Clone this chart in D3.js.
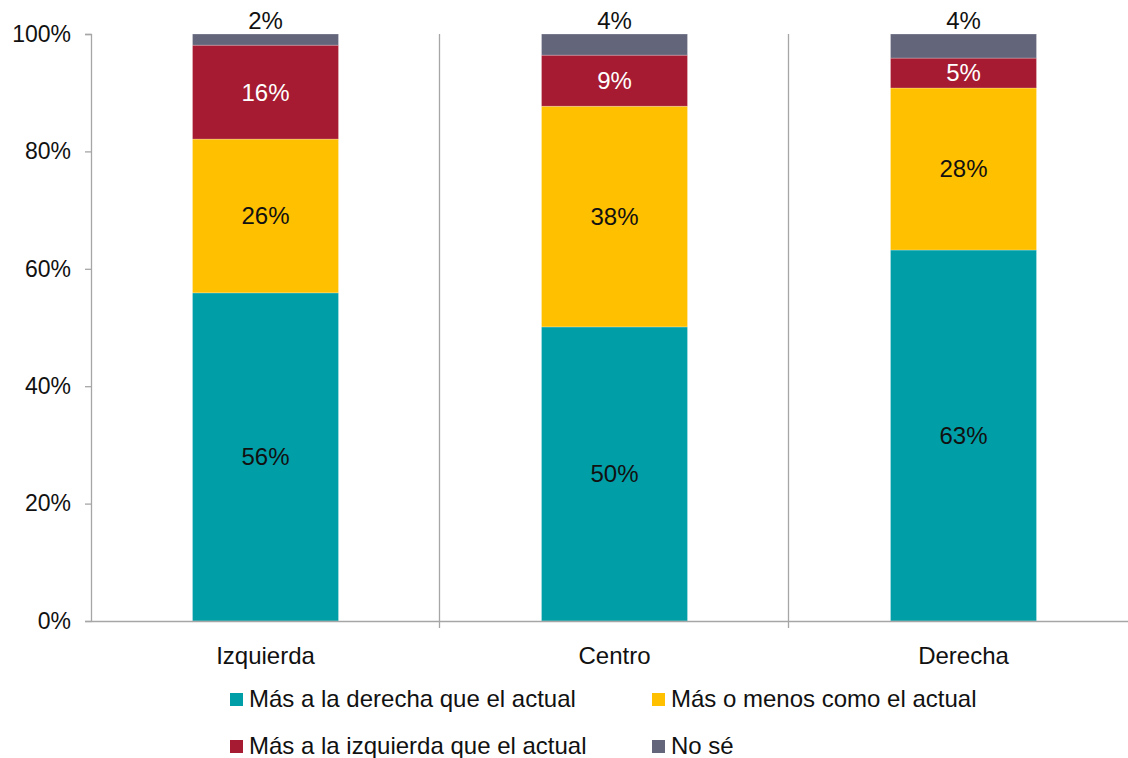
<!DOCTYPE html>
<html>
<head>
<meta charset="utf-8">
<script src="https://cdn.jsdelivr.net/npm/d3@7"></script>
<style>
  body { margin: 0; background: #fff; }
  svg { display: block; font-family: "Liberation Sans", Arial, sans-serif; }
</style>
</head>
<body>
<script>
// categorías y series (porcentajes)
const categories = ["Izquierda", "Centro", "Derecha"];
const seriesNames = [
  "Más a la derecha que el actual",
  "Más o menos como el actual",
  "Más a la izquierda que el actual",
  "No sé"
];
const masDerecha = [55.9, 50.1, 63.2];
const igual = [26.2, 37.6, 27.6];
const masIzquierda = [16.0, 8.7, 5.1];
const noSe = [1.9, 3.6, 4.1];
const yTicks = [0, 20, 40, 60, 80, 100];

const colors = ["#009fa7", "#ffc000", "#a61b31", "#63667b"];
const labelColors = ["#111", "#111", "#fff", "#111"];

const w = 1128;
const h = 758;
const padLeft = 91;
const padTop = 34;
const plotBottom = 621;
const band = 349;

const rows = categories.map((c, i) => ({
  cat: c,
  s0: masDerecha[i],
  s1: igual[i],
  s2: masIzquierda[i],
  s3: noSe[i]
}));
const keys = ["s0", "s1", "s2", "s3"];
const stacked = d3.stack().keys(keys)(rows);

const xScale = d3
  .scaleBand()
  .domain(categories)
  .range([padLeft, padLeft + band * categories.length])
  .paddingInner(0)
  .paddingOuter(0);
const barW = 146;

const yScale = d3.scaleLinear().domain([0, 100]).range([plotBottom, padTop]);

const svg = d3.select("body").append("svg").attr("width", w).attr("height", h);

// líneas divisorias entre categorías
svg
  .selectAll("line.div")
  .data(categories.slice(1))
  .enter()
  .append("line")
  .attr("class", "div")
  .attr("x1", d => xScale(d) - 0.5)
  .attr("x2", d => xScale(d) - 0.5)
  .attr("y1", padTop)
  .attr("y2", plotBottom + 7)
  .attr("stroke", "#a6a6a6")
  .attr("stroke-width", 1.3);

// barras apiladas
const groups = svg
  .selectAll("g.serie")
  .data(stacked)
  .enter()
  .append("g")
  .attr("class", "serie")
  .attr("fill", (d, i) => colors[i]);

groups
  .selectAll("rect")
  .data(d => d)
  .enter()
  .append("rect")
  .attr("x", d => xScale(d.data.cat) + (xScale.bandwidth() - barW) / 2)
  .attr("y", d => yScale(d[1]))
  .attr("width", barW)
  .attr("height", d => yScale(d[0]) - yScale(d[1]))
  .attr("stroke", "rgba(255,255,255,0.35)")
  .attr("stroke-width", 0.7);

// etiquetas de datos
const fmt = v => Math.round(v) + "%";
stacked.forEach((serie, si) => {
  svg
    .append("g")
    .selectAll("text")
    .data(serie)
    .enter()
    .append("text")
    .attr("x", d => xScale(d.data.cat) + xScale.bandwidth() / 2)
    .attr("y", d => (si === 3 ? yScale(d[1]) - 5 : (yScale(d[0]) + yScale(d[1])) / 2))
    .attr("dy", si === 3 ? 0 : "0.35em")
    .attr("text-anchor", "middle")
    .attr("font-size", "24px")
    .attr("fill", labelColors[si])
    .text(d => fmt(d[1] - d[0]));
});

// eje Y
const yAxis = d3
  .axisLeft(yScale)
  .tickValues(yTicks)
  .tickFormat(d => d + "%")
  .tickSize(6)
  .tickPadding(14);
const gy = svg.append("g").attr("transform", "translate(" + padLeft + ",0)").call(yAxis);
gy.selectAll("path, line").attr("stroke", "#a6a6a6").attr("stroke-width", 1.3);
gy.selectAll("text").attr("font-size", "23px").attr("fill", "#111").attr("font-family", null);

// eje X
const xAxis = d3.axisBottom(xScale).tickSize(0).tickPadding(26);
const gx = svg.append("g").attr("transform", "translate(0," + plotBottom + ")").call(xAxis);
gx.select("path").attr("stroke", "#a6a6a6").attr("stroke-width", 1.3);
gx.selectAll("text").attr("font-size", "24px").attr("fill", "#111").attr("font-family", null);

// leyenda
const legendPos = [
  [230, 699],
  [652, 699],
  [230, 746],
  [652, 746]
];
const legend = svg
  .selectAll("g.leg")
  .data(seriesNames)
  .enter()
  .append("g")
  .attr("class", "leg")
  .attr("transform", (d, i) => "translate(" + legendPos[i][0] + "," + legendPos[i][1] + ")");
legend
  .append("rect")
  .attr("x", 0)
  .attr("y", -6)
  .attr("width", 13)
  .attr("height", 13)
  .attr("fill", (d, i) => colors[i]);
legend
  .append("text")
  .attr("x", 19)
  .attr("y", 0)
  .attr("dy", "0.33em")
  .attr("font-size", "24px")
  .attr("fill", "#111")
  .text(d => d);
</script>
</body>
</html>
